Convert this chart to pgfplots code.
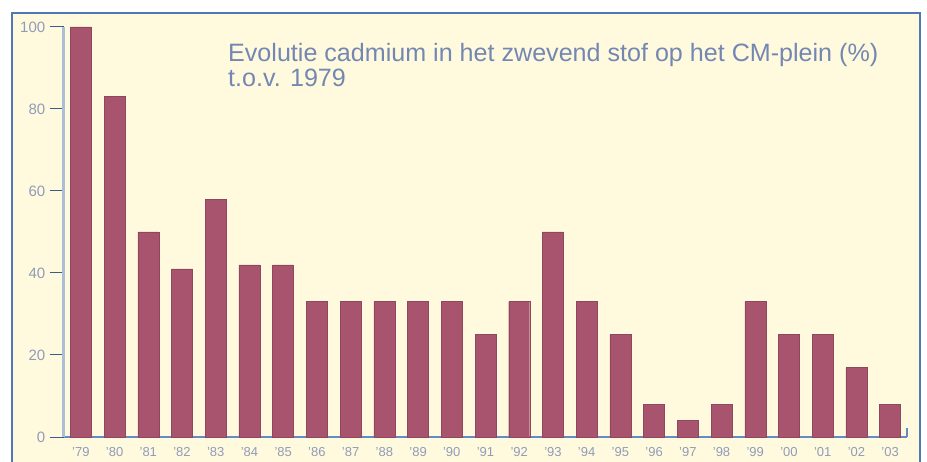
\documentclass[border=0pt]{standalone}
\usepackage{fontspec}
\usepackage{pgfplots}
\pgfplotsset{compat=1.18}
\setmainfont{Liberation Sans}
\definecolor{bg}{RGB}{255,250,222}
\definecolor{framec}{RGB}{80,120,180}
\definecolor{barc}{RGB}{168,84,110}
\definecolor{titlec}{RGB}{115,135,178}
\definecolor{tickc}{RGB}{145,155,185}
\definecolor{yaxc}{RGB}{170,190,215}
\definecolor{xaxc}{RGB}{100,140,195}
\definecolor{tickmc}{RGB}{60,90,140}
\begin{document}
\begin{tikzpicture}[x=1pt,y=1pt]
\useasboundingbox (0,0) rectangle (927,461);
\fill[white] (0,0) rectangle (927,461);
\fill[bg] (12,-5) rectangle (920,448);
\draw[framec, line width=1.5pt] (12,-5) -- (12,448) -- (920,448) -- (920,-5);
\begin{axis}[
  at={(64pt,24pt)}, anchor=south west, scale only axis,
  width=843pt, height=410pt,
  xmin=-0.5, xmax=24.5, ymin=0, ymax=100,
  enlargelimits=false,
  axis x line=bottom, axis y line=left,
  x axis line style={-, draw=xaxc, line width=1.5pt},
  y axis line style={-, draw=yaxc, line width=3pt},
  tick align=outside,
  ytick={0,20,...,100},
  xtick={0,...,24},
  xticklabels={'79,'80,'81,'82,'83,'84,'85,'86,'87,'88,'89,'90,'91,'92,'93,'94,'95,'96,'97,'98,'99,'00,'01,'02,'03},
  xtick style={/pgfplots/major tick length=0pt},
  ytick style={/pgfplots/major tick length=14pt, draw=tickmc, line width=1pt},
  yticklabel style={font=\fontsize{15}{15}\selectfont, text=tickc, xshift=-11pt},
  xticklabel style={font=\fontsize{13}{13}\selectfont, text=tickc, yshift=-3pt},
  /pgf/number format/assume math mode=true,
]
\addplot[ybar, bar width=21pt, fill=barc, draw=barc!85!black, line width=0.4pt] coordinates {
(0,100) (1,83) (2,50) (3,41) (4,58) (5,42) (6,42) (7,33) (8,33) (9,33)
(10,33) (11,33) (12,25) (13,33) (14,50) (15,33) (16,25) (17,8) (18,4) (19,8)
(20,33) (21,25) (22,25) (23,17) (24,8)
};
\end{axis}
\draw[xaxc, line width=1.5pt] (907,24) -- (907,33);
\node[anchor=base west, inner sep=0, font=\fontsize{25.1}{25}\selectfont, text=titlec] at (228,399) {Evolutie cadmium in het zwevend stof op het CM-plein (\%)};
\node[anchor=base west, inner sep=0, font=\fontsize{25.1}{25}\selectfont, text=titlec] at (228,374) {t.o.v. 1979};
\end{tikzpicture}
\end{document}
